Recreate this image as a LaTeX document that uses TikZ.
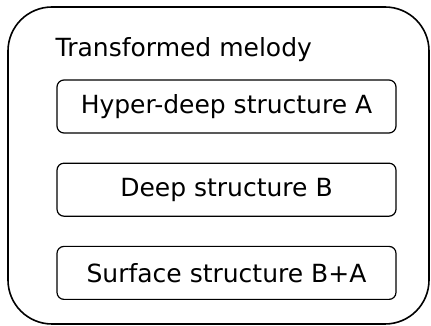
\documentclass[tikz,border=0pt]{standalone}
\usepackage{fontspec}
\setmainfont{DejaVu Sans}
\usetikzlibrary{positioning}

\begin{document}
\begin{tikzpicture}[x=1pt,y=1pt,node distance=29pt,
		thick,struct node/.style={rectangle,draw,line width=1.2pt,rounded corners=7pt,
		minimum width=339pt,minimum height=53pt,inner sep=0pt,font=\fontsize{25}{30}\selectfont}]
		\useasboundingbox (0,0) rectangle (431,326);
		\node[draw,line width=1.6pt,rounded corners=44pt,minimum width=421pt,minimum height=317pt,inner sep=0pt] (outer) at (218.5,160.5) {};
		\node[anchor=base west,font=\fontsize{25}{30}\selectfont] (title) at (52,269) {Transformed melody};
		\node[struct node] (hyper) at (226.5,219.5) {Hyper-deep structure A};
		\node[struct node] (deep) [below=of hyper] {Deep structure B};
		\node[struct node] (surface) [below=of deep] {Surface structure B+A};
		\end{tikzpicture}
\end{document}
